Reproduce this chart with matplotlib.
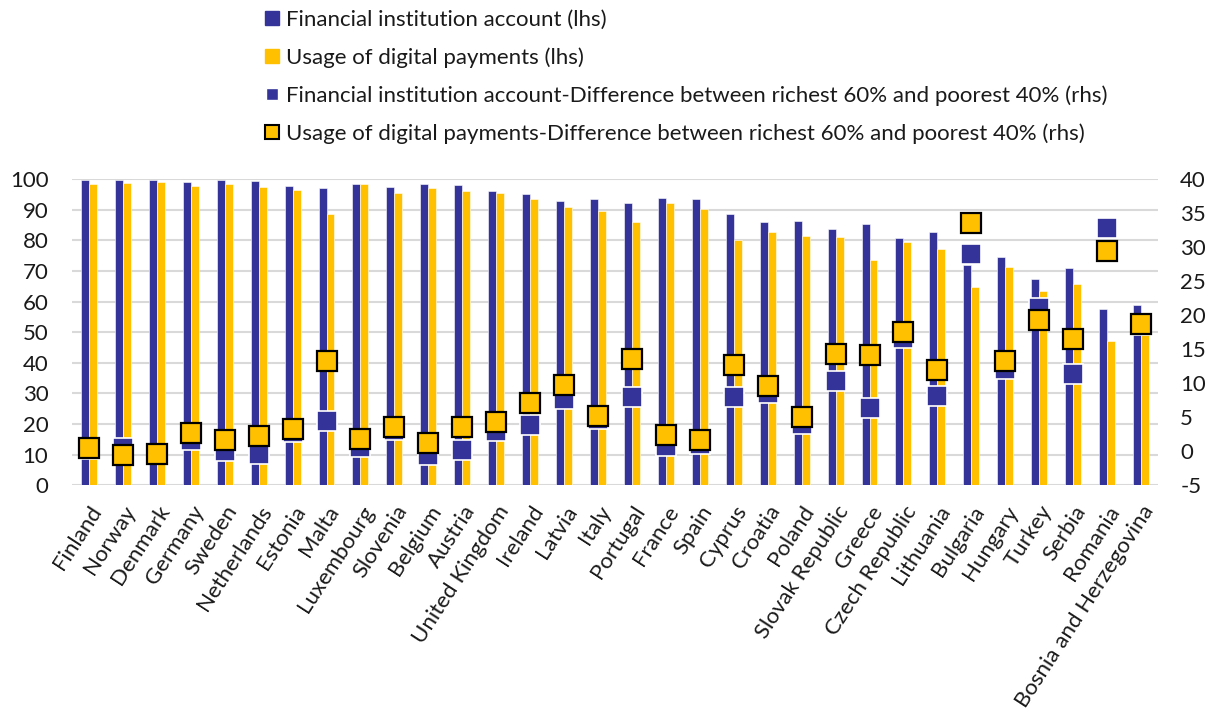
import matplotlib
matplotlib.use("Agg")
import matplotlib.pyplot as plt
from matplotlib.lines import Line2D
import numpy as np

plt.rcParams['font.family'] = ['Lato', 'DejaVu Sans']
plt.rcParams['axes.unicode_minus'] = False

countries = ["Finland", "Norway", "Denmark", "Germany", "Sweden", "Netherlands", "Estonia",
             "Malta", "Luxembourg", "Slovenia", "Belgium", "Austria", "United Kingdom",
             "Ireland", "Latvia", "Italy", "Portugal", "France", "Spain", "Cyprus", "Croatia",
             "Poland", "Slovak Republic", "Greece", "Czech Republic", "Lithuania", "Bulgaria",
             "Hungary", "Turkey", "Serbia", "Romania", "Bosnia and Herzegovina"]

account = [99.7, 99.8, 99.9, 99.0, 99.7, 99.4, 97.9, 97.3, 98.6, 97.4, 98.6, 98.0, 96.3,
           95.2, 93.0, 93.6, 92.2, 93.8, 93.6, 88.6, 85.9, 86.5, 83.9, 85.3, 80.8, 82.7,
           72.0, 74.7, 67.5, 71.1, 57.6, 59.0]

digital = [98.4, 98.9, 99.2, 97.7, 98.4, 97.6, 96.6, 88.8, 98.4, 95.6, 97.0, 96.1, 95.5,
           93.4, 90.8, 89.5, 86.2, 92.1, 90.3, 80.0, 82.9, 81.6, 81.3, 73.5, 79.4, 77.3,
           64.7, 71.2, 63.6, 65.9, 47.3, 52.0]

account_gap = [0.3, 0.5, -0.4, 1.6, 0.05, -0.35, 2.8, 4.4, 0.6, 3.1, -0.5, 0.25, 3.0,
               3.8, 7.7, 4.8, 8.0, 0.8, 1.0, 8.0, 8.5, 4.0, 10.3, 6.4, 16.6, 8.1,
               29.0, 12.1, 21.0, 11.4, 32.9, 18.5]

digital_gap = [0.5, -0.6, -0.4, 2.75, 1.7, 2.3, 3.3, 13.3, 1.8, 3.5, 1.2, 3.6, 4.3,
               7.1, 9.8, 5.2, 13.5, 2.4, 1.6, 12.7, 9.6, 5.1, 14.3, 14.1, 17.5, 11.9,
               33.5, 13.3, 19.3, 16.5, 29.5, 18.7]

labels = ["Financial institution account (lhs)",
          "Usage of digital payments (lhs)",
          "Financial institution account-Difference between richest 60% and poorest 40% (rhs)",
          "Usage of digital payments-Difference between richest 60% and poorest 40% (rhs)"]

BLUE = "#333399"
YELLOW = "#FFC000"
GRID = "#d9d9d9"
TXT = "#1a1a1a"

fig = plt.figure(figsize=(12.1, 7.2), dpi=100)
ax = fig.add_axes([0.0595, 0.326, 0.8975, 0.425])
ax2 = ax.twinx()

x = np.arange(len(countries))
w = 0.235
ax.bar(x - w / 2, account, width=w, color=BLUE, edgecolor="white", linewidth=0.4, zorder=2)
ax.bar(x + w / 2, digital, width=w, color=YELLOW, edgecolor="white", linewidth=0.4, zorder=2)

ax2.plot(x, account_gap, linestyle="none", marker="s", markersize=14.5,
         markerfacecolor=BLUE, markeredgecolor="white", markeredgewidth=1.2, zorder=3)
ax2.plot(x, digital_gap, linestyle="none", marker="s", markersize=14.5,
         markerfacecolor=YELLOW, markeredgecolor="black", markeredgewidth=1.6, zorder=4)

ax.set_xlim(-0.5, len(countries) - 0.5)
ax.set_ylim(0, 100)
ax2.set_ylim(-5, 40)
ax.set_yticks(np.arange(0, 101, 10))
ax2.set_yticks(np.arange(-5, 41, 5))

ax.yaxis.grid(True, color=GRID, linewidth=1.5, zorder=0)
ax.set_axisbelow(True)
for a in (ax, ax2):
    for s in a.spines.values():
        s.set_visible(False)

ax.tick_params(axis="y", length=0, pad=17, labelsize=16, labelcolor=TXT)
ax2.tick_params(axis="y", length=0, pad=16, labelsize=16, labelcolor=TXT)
ax.set_xticks(x)
ax.set_xticklabels(countries, rotation=57, ha="right", rotation_mode="anchor",
                   fontsize=16, color=TXT)
ax.tick_params(axis="x", length=0, pad=12)

handles = [
    Line2D([], [], linestyle="none", marker="s", markersize=10.5, markerfacecolor=BLUE,
           markeredgecolor=BLUE),
    Line2D([], [], linestyle="none", marker="s", markersize=10.5, markerfacecolor=YELLOW,
           markeredgecolor=YELLOW),
    Line2D([], [], linestyle="none", marker="s", markersize=8, markerfacecolor=BLUE,
           markeredgecolor="white"),
    Line2D([], [], linestyle="none", marker="s", markersize=10, markerfacecolor=YELLOW,
           markeredgecolor="black", markeredgewidth=1.5),
]
fig.legend(handles, labels, loc="upper left", bbox_to_anchor=(0.205, 1.008),
           frameon=False, fontsize=16, labelspacing=0.78, handlelength=0.8,
           handletextpad=0.2, borderaxespad=0.3, labelcolor=TXT)

fig.savefig("out.png", dpi=100)
